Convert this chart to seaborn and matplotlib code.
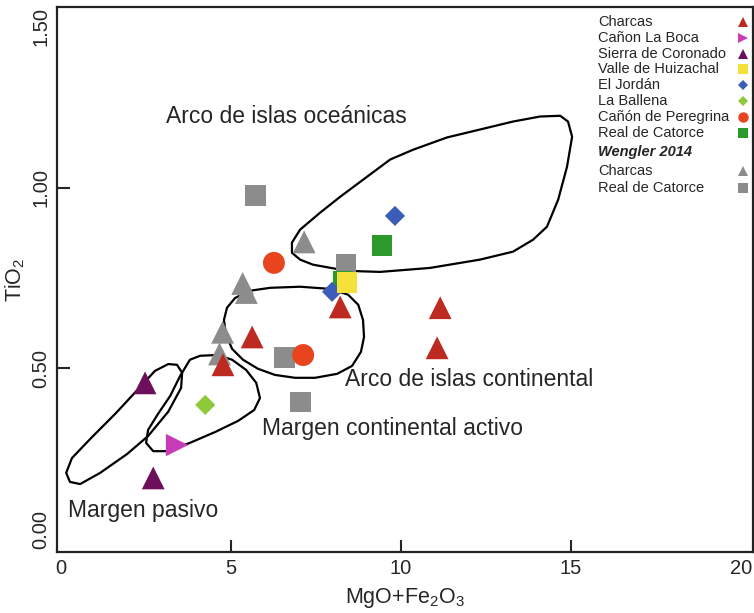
import matplotlib
matplotlib.use("Agg")
import matplotlib.pyplot as plt
import seaborn as sns
import pandas as pd

# ---------------- data ----------------
charcas_x = [8.21, 11.15, 11.06, 5.62, 4.76]
charcas_y = [0.670, 0.668, 0.557, 0.587, 0.510]
boca_x = [3.41]
boca_y = [0.288]
coronado_x = [2.47, 2.71]
coronado_y = [0.460, 0.197]
huizachal_x = [8.41]
huizachal_y = [0.737]
jordan_x = [9.82, 7.97]
jordan_y = [0.922, 0.712]
ballena_x = [4.24]
ballena_y = [0.399]
peregrina_x = [6.26, 7.12]
peregrina_y = [0.792, 0.537]
catorce_x = [9.44, 8.29]
catorce_y = [0.839, 0.742]
w_charcas_x = [7.15, 5.34, 5.45, 4.75, 4.66]
w_charcas_y = [0.850, 0.735, 0.710, 0.600, 0.540]
w_catorce_x = [5.72, 8.38, 6.57, 7.04]
w_catorce_y = [0.978, 0.789, 0.530, 0.407]

# field outlines (traced vertices)
ocean_x = [6.79, 7.03, 7.62, 8.21, 8.88, 9.68, 10.35, 11.35, 12.32, 13.29, 14.09, 14.68, 14.91,
           15.03, 14.88, 14.62, 14.29, 13.88, 13.29, 12.32, 10.85, 9.38, 8.41, 7.41, 7.03, 6.79]
ocean_y = [0.848, 0.884, 0.931, 0.975, 1.022, 1.078, 1.105, 1.139, 1.161, 1.183, 1.197, 1.199, 1.183,
           1.141, 1.058, 0.967, 0.892, 0.856, 0.823, 0.801, 0.778, 0.767, 0.770, 0.787, 0.801, 0.820]
cont_x = [4.88, 5.12, 5.56, 6.15, 7.03, 7.91, 8.44, 8.74, 8.88, 8.91, 8.82, 8.56, 8.12, 7.47,
          6.88, 6.29, 5.79, 5.35, 5.03, 4.85, 4.79]
cont_y = [0.668, 0.695, 0.715, 0.723, 0.726, 0.720, 0.704, 0.676, 0.634, 0.587, 0.546, 0.507, 0.485, 0.474,
          0.474, 0.482, 0.499, 0.524, 0.554, 0.593, 0.634]
activo_x = [3.79, 4.09, 4.59, 5.03, 5.44, 5.74, 5.85, 5.68, 5.21, 4.53, 3.79, 3.15, 2.71, 2.50,
            2.56, 2.85, 3.21, 3.50]
activo_y = [0.524, 0.535, 0.537, 0.524, 0.496, 0.460, 0.418, 0.385, 0.355, 0.324, 0.294, 0.271, 0.271, 0.294,
            0.330, 0.374, 0.424, 0.479]
pasivo_x = [3.15, 3.41, 3.56, 3.53, 3.15, 2.56, 1.94, 1.15, 0.56, 0.26, 0.15, 0.32, 0.91, 1.62, 2.24, 2.76]
pasivo_y = [0.512, 0.510, 0.488, 0.446, 0.380, 0.313, 0.263, 0.211, 0.180, 0.186, 0.211, 0.252, 0.310,
            0.377, 0.440, 0.493]

field_labels = ["Arco de islas oceánicas", "Arco de islas continental",
                "Margen continental activo", "Margen pasivo"]
x_ticks = [0, 5, 10, 15, 20]
y_ticks = [0.0, 0.5, 1.0, 1.5]
y_ticklabels = ["0.00", "0.50", "1.00", "1.50"]

# ---------------- style ----------------
sns.set_style("ticks")
plt.rcParams["font.family"] = ["Liberation Sans", "DejaVu Sans"]
plt.rcParams["mathtext.default"] = "regular"

W, H = 754, 613
fig = plt.figure(figsize=(W / 100, H / 100), dpi=100)
ax = fig.add_axes([57 / W, 1 - 552 / H, (753 - 57) / W, (552 - 7) / H])

# groups: xs, ys, marker, color, area
groups = {
    "Charcas": (charcas_x, charcas_y, "^", "#bd2a22", 270),
    "Cañon La Boca": (boca_x, boca_y, ">", "#c83cba", 260),
    "Sierra de Coronado": (coronado_x, coronado_y, "^", "#6d0f5a", 270),
    "Valle de Huizachal": (huizachal_x, huizachal_y, "s", "#f6e03a", 225),
    "El Jordán": (jordan_x, jordan_y, "D", "#3b5cb8", 105),
    "La Ballena": (ballena_x, ballena_y, "D", "#8fc93a", 105),
    "Cañón de Peregrina": (peregrina_x, peregrina_y, "o", "#e8441e", 250),
    "Real de Catorce": (catorce_x, catorce_y, "s", "#2b9a2b", 225),
    "W Charcas": (w_charcas_x, w_charcas_y, "^", "#8c8c8c", 270),
    "W Real de Catorce": (w_catorce_x, w_catorce_y, "s", "#8c8c8c", 225),
}

# field outlines
for fx, fy in [(ocean_x, ocean_y), (cont_x, cont_y), (activo_x, activo_y), (pasivo_x, pasivo_y)]:
    ax.fill(fx, fy, facecolor="none", edgecolor="black", lw=1.6, joinstyle="round", zorder=2)

draw_order = ["W Charcas", "W Real de Catorce", "Real de Catorce", "El Jordán", "Valle de Huizachal",
              "Charcas", "Cañón de Peregrina", "La Ballena", "Cañon La Boca", "Sierra de Coronado"]
for i, name in enumerate(draw_order):
    xs, ys, mk, col, s = groups[name]
    df = pd.DataFrame({"x": xs, "y": ys})
    sns.scatterplot(data=df, x="x", y="y", marker=mk, color=col, s=s, edgecolor="none",
                    linewidth=0, ax=ax, zorder=3 + i, legend=False)

# field labels
ax.text(3.10, 1.197, field_labels[0], fontsize=16.5, ha="left", va="center")
ax.text(8.35, 0.468, field_labels[1], fontsize=16.5, ha="left", va="center")
ax.text(5.91, 0.333, field_labels[2], fontsize=16.5, ha="left", va="center")
ax.text(0.21, 0.106, field_labels[3], fontsize=16.5, ha="left", va="center")

# axes
ax.set_xlim(-0.12, 20.35)
ax.set_ylim(-0.008, 1.50)
ax.set_xticks(x_ticks)
ax.set_xticklabels([str(t) for t in x_ticks])
ax.set_yticks(y_ticks)
ax.set_yticklabels(y_ticklabels, rotation=90, va="center")
ylabs = ax.get_yticklabels()
ylabs[0].set_va("bottom")
ylabs[-1].set_va("top")
ax.tick_params(direction="in", length=9, width=1.5, labelsize=14.5, pad=5)
# no tick marks at the frame corners / right end
xt = ax.xaxis.get_major_ticks()
yt = ax.yaxis.get_major_ticks()
for t in (xt[0], xt[-1], yt[0], yt[-1]):
    t.tick1line.set_visible(False)
for sp in ax.spines.values():
    sp.set_linewidth(1.6)
    sp.set_color("#222222")
ax.set_xlabel("MgO+Fe$_2$O$_3$", fontsize=15.5, labelpad=6)
ax.set_ylabel("TiO$_2$", fontsize=15.5, labelpad=3)

# legend (text column left, marker column right)
leg_items = [("Charcas", "^", "#bd2a22", 7.5), ("Cañon La Boca", ">", "#c83cba", 7.5),
             ("Sierra de Coronado", "^", "#6d0f5a", 7.5), ("Valle de Huizachal", "s", "#f6e03a", 7),
             ("El Jordán", "D", "#3b5cb8", 5), ("La Ballena", "D", "#8fc93a", 5),
             ("Cañón de Peregrina", "o", "#e8441e", 7.5), ("Real de Catorce", "s", "#2b9a2b", 7),
             ("Wengler 2014", None, None, 0), ("Charcas", "^", "#8c8c8c", 7.5),
             ("Real de Catorce", "s", "#8c8c8c", 7)]
rows_px = [22, 38, 54, 69, 85, 101, 117, 133, 152, 171, 188]
for (lab, mk, col, ms), py in zip(leg_items, rows_px):
    fyv = 1 - py / H
    if mk is None:
        fig.text(598 / W, fyv, lab, fontsize=10.5, ha="left", va="center",
                 fontweight="bold", fontstyle="italic")
    else:
        fig.text(598 / W, fyv, lab, fontsize=10.5, ha="left", va="center")
        ax.plot([743 / W], [fyv], marker=mk, color=col, markersize=ms, linestyle="",
                markeredgewidth=0, transform=fig.transFigure, clip_on=False, zorder=20)

fig.savefig("out.png", dpi=100)
